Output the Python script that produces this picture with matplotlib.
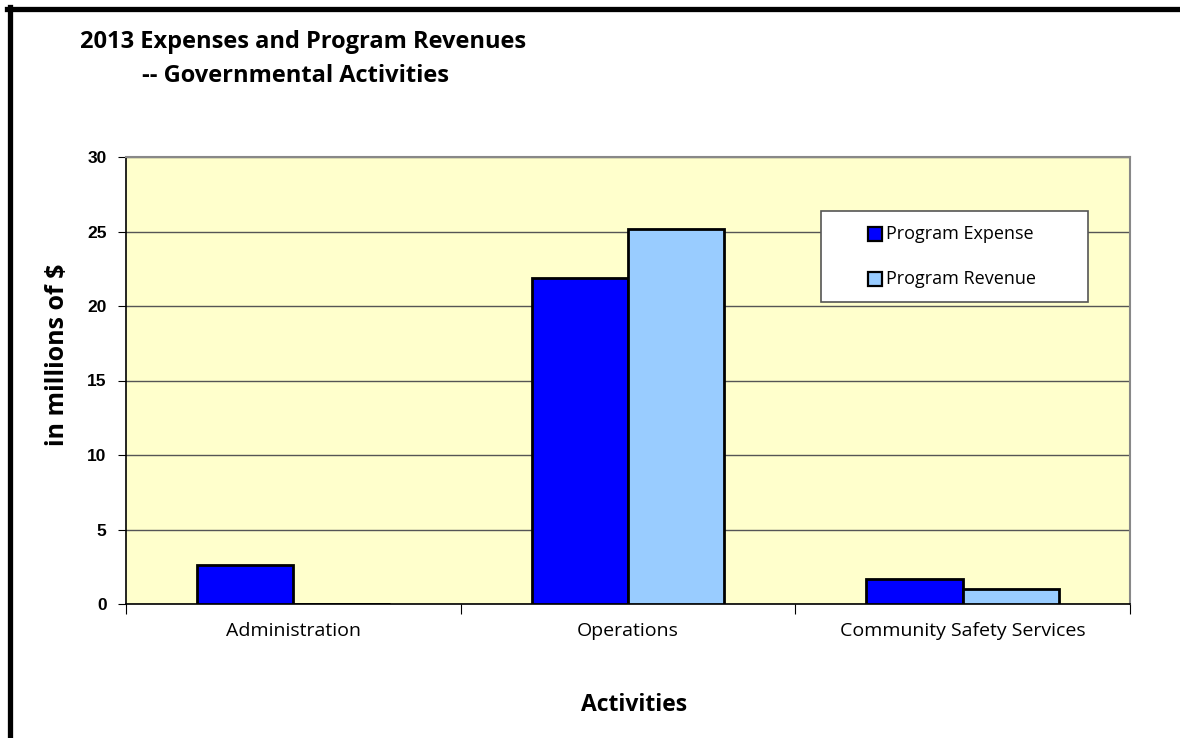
import matplotlib
matplotlib.use("Agg")
import matplotlib.pyplot as plt
import numpy as np
from matplotlib.lines import Line2D
from matplotlib.patches import Rectangle

categories = ["Administration", "Operations", "Community Safety Services"]
series_names = ["Program Expense", "Program Revenue"]
expense = [2.6, 21.9, 1.7]
revenue = [0.0, 25.2, 1.0]
yticks = [0, 5, 10, 15, 20, 25, 30]
colors = ["#0000FF", "#99CCFF"]

W, H = 1180, 738
fig = plt.figure(figsize=(W / 100, H / 100), dpi=100)
fig.patch.set_facecolor("white")


def fx(px):
    return px / W


def fy(py):
    return 1 - py / H


# axes placement in pixel coords
L, R, T, B = 126, 1130, 157, 604
ax = fig.add_axes([fx(L), fy(B), (R - L) / W, (B - T) / H])
ax.set_facecolor("#FFFFCC")

x = np.arange(len(categories))
bw = 0.288
ax.bar(x - bw / 2, expense, bw, color=colors[0], edgecolor="black", linewidth=2, zorder=3)
ax.bar(x + bw / 2, revenue, bw, color=colors[1], edgecolor="black", linewidth=2, zorder=3)

ax.set_xlim(-0.5, len(categories) - 0.5)
ax.set_ylim(0, 30)
ax.set_yticks(yticks)
ax.set_yticklabels([str(v) for v in yticks], fontfamily="Liberation Sans", fontweight="bold", fontsize=12.5)
ax.yaxis.grid(True, color="#555555", linewidth=1, zorder=1)
ax.set_axisbelow(True)

# category labels between ticks at boundaries
ax.set_xticks(np.arange(len(categories) + 1) - 0.5)
ax.set_xticklabels([])
ax.set_xticks(x, minor=True)
ax.set_xticklabels(categories, minor=True, fontfamily="Open Sans", fontsize=14)
ax.tick_params(axis="x", which="minor", length=0, pad=13)
ax.tick_params(axis="x", which="major", length=7, direction="out", color="black")
ax.tick_params(axis="y", length=6, direction="out", color="black", pad=8)

for side in ["top", "right"]:
    ax.spines[side].set_color("#888888")
    ax.spines[side].set_linewidth(1.5)
ax.spines["left"].set_color("black")
ax.spines["bottom"].set_color("black")
ax.spines["left"].set_linewidth(1.2)
ax.spines["bottom"].set_linewidth(1.2)

# axis titles
fig.text(fx(58), fy(355), "in millions of $", fontfamily="Open Sans", fontweight="bold", fontsize=18,
         rotation=90, ha="center", va="center")
fig.text(fx(634), fy(705), "Activities", fontfamily="Open Sans", fontweight="bold", fontsize=16.5,
         ha="center", va="center")

# title
fig.text(fx(80), fy(42), "2013 Expenses and Program Revenues", fontfamily="Open Sans",
         fontweight="bold", fontsize=17, ha="left", va="center")
fig.text(fx(142), fy(76), "-- Governmental Activities", fontfamily="Open Sans",
         fontweight="bold", fontsize=17, ha="left", va="center")

# legend box (drawn manually to match size/position)
lx0, ly0, lx1, ly1 = 821, 211, 1088, 302
fig.add_artist(Rectangle((fx(lx0), fy(ly1)), (lx1 - lx0) / W, (ly1 - ly0) / H,
                         transform=fig.transFigure, facecolor="white", edgecolor="#555555",
                         linewidth=1.2, zorder=5))
entry_y = [234, 279]
for name, col, ey in zip(series_names, colors, entry_y):
    fig.add_artist(Line2D([fx(875)], [fy(ey)], marker="s", linestyle="none", markersize=9.5,
                          markerfacecolor=col, markeredgecolor="black", markeredgewidth=1.6,
                          transform=fig.transFigure, zorder=6))
    fig.text(fx(886), fy(ey), name, fontfamily="Open Sans", fontsize=13, ha="left", va="center", zorder=6)

# figure border lines (top and left only)
fig.add_artist(Line2D([fx(7), 1], [fy(8.5), fy(8.5)], color="black", linewidth=3.8, transform=fig.transFigure))
fig.add_artist(Line2D([fx(9.5), fx(9.5)], [0, fy(6.6)], color="black", linewidth=3.8, transform=fig.transFigure))

fig.savefig("out.png", dpi=100, facecolor="white")
